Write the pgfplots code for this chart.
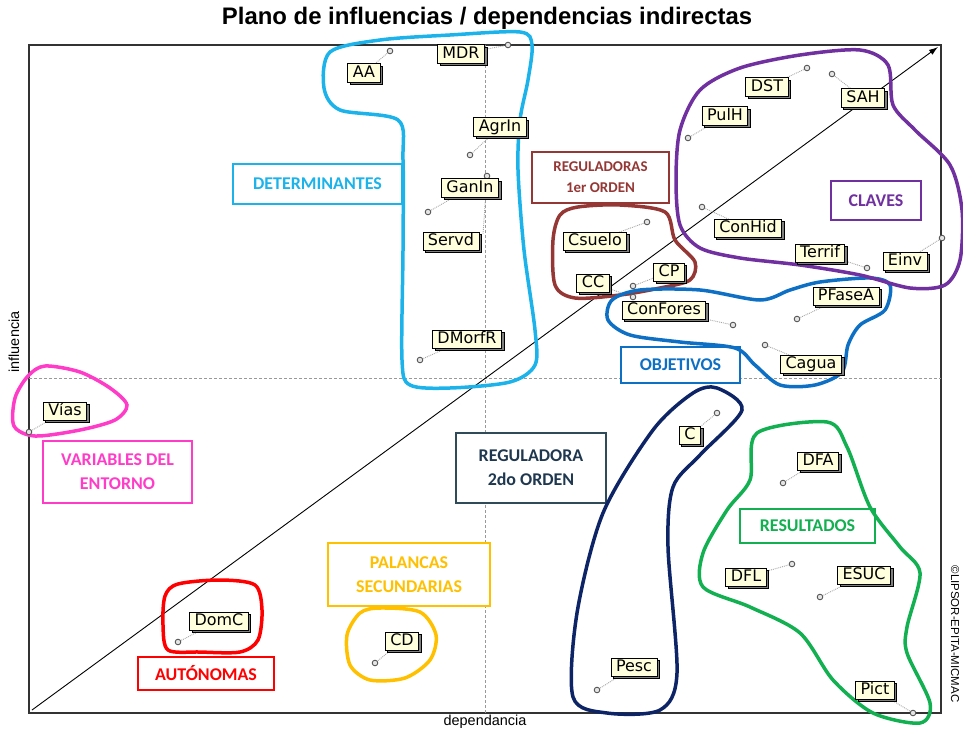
\documentclass[border=0pt]{standalone}
\usepackage{fontspec}
\setmainfont{Liberation Sans}
\newfontfamily\dejavu{DejaVu Sans}
\newfontfamily\carlito{Carlito}
\usepackage{pgfplots}
\pgfplotsset{compat=1.18}
\usepackage{pgfplotstable}
\usetikzlibrary{arrows.meta,shadows}

\definecolor{detblue}{HTML}{1CB2EA}
\definecolor{regbrown}{HTML}{953735}
\definecolor{clavpurple}{HTML}{7030A0}
\definecolor{objblue}{HTML}{0E70C4}
\definecolor{entpink}{HTML}{FF3CC8}
\definecolor{regnavy}{HTML}{0D2566}
\definecolor{resgreen}{HTML}{12B050}
\definecolor{palorange}{HTML}{FFC000}
\definecolor{autred}{HTML}{FF0000}
\definecolor{reg2text}{HTML}{1F3850}
\definecolor{reg2line}{HTML}{2F4A58}
\definecolor{cream}{HTML}{FFFFDD}

% variable: marker (px,py), label centre (lx,ly), end of the connector (ex,ey)
\pgfplotstableread{
name px py lx ly ex ey
AA 390 51 364 73 364 73
MDR 508 45 461 54 461 54
AgrIn 470 155 500 127 500 127
GanIn 428 212 470 188 470 188
Servd 487 176 451 241 483 234
DMorfR 420 360 467 339 467 339
Vías 29 432 65 411 65 411
DomC 178 642 219 621 219 621
CD 375 663 402 641 402 641
Csuelo 647 222 595 241 595 241
CC 633 297 593 283 593 283
CP 633 286 669 272 669 272
ConFores 733 325 664 310 664 310
PFaseA 797 319 846 296 846 296
Cagua 765 345 811 364 811 364
DST 807 68 767 87 767 87
SAH 832 74 863 98 863 98
PulH 688 138 725 116 725 116
ConHid 702 207 748 228 748 228
Terrif 867 268 820 253 820 253
Einv 942 238 905 261 905 261
C 717 413 690 435 690 435
Pesc 597 690 634 667 634 667
DFA 783 483 818 461 818 461
DFL 792 564 746 577 746 577
ESUC 820 597 864 575 864 575
Pict 913 713 875 690 875 690
}\vars

\tikzset{catbox/.style={draw=#1, text=#1, fill=white, line width=1.2bp, align=center, inner sep=0pt,
  font=\carlito\bfseries\fontsize{18}{24}\selectfont}}

\begin{document}
\begin{tikzpicture}
\begin{axis}[
  scale only axis, width=912bp, height=668bp,
  xmin=29, xmax=941, ymin=45, ymax=713, y dir=reverse,
  xtick=\empty, ytick=\empty,
  axis line style={draw=black!80, line width=1.4bp},
  clip=false,
]
% quadrants and diagonal
\addplot[gray!80, line width=0.8bp, dash pattern=on 3bp off 2bp] coordinates {(485,45) (485,713)};
\addplot[gray!80, line width=0.8bp, dash pattern=on 3bp off 2bp] coordinates {(29,378) (941,378)};
\addplot[black, line width=0.9bp, -{Latex[length=9bp,width=6bp]}] coordinates {(32,710) (938,47)};

% connectors, markers and labels
\addplot[gray!70, line width=0.9bp, double=white, double distance=1bp, densely dotted, mark=none,
  quiver={u=\thisrow{ex}-\thisrow{px}, v=\thisrow{ey}-\thisrow{py}}] table[x=px, y=py] {\vars};
\addplot[only marks, mark=*, mark size=2.8bp, mark options={fill=gray!20, draw=black!65, line width=0.9bp}]
  table[x=px, y=py] {\vars};
\addplot[only marks, mark=none, nodes near coords, point meta=explicit symbolic,
  nodes near coords style={anchor=center, draw=black, fill=cream, line width=0.9bp,
    font=\dejavu\fontsize{16}{16}\selectfont, text height=11.5bp, text depth=3bp,
    inner xsep=5bp, inner ysep=1.8bp,
    drop shadow={shadow xshift=2.5bp, shadow yshift=-2.5bp, fill=black!50, opacity=1}}]
  table[x=lx, y=ly, meta=name] {\vars};

% category boxes
\node[catbox=detblue, minimum width=169bp, minimum height=40bp] at (axis cs:317.5,184) {DETERMINANTES};
\node[catbox=regbrown, minimum width=137bp, minimum height=51bp, font=\carlito\bfseries\fontsize{15}{21}\selectfont] at (axis cs:600.5,177.5) {REGULADORAS\\1er ORDEN};
\node[catbox=clavpurple, minimum width=90bp, minimum height=39bp] at (axis cs:876,200.5) {CLAVES};
\node[catbox=objblue, minimum width=119bp, minimum height=36bp] at (axis cs:680.5,365) {OBJETIVOS};
\node[catbox=entpink, minimum width=149bp, minimum height=62bp] at (axis cs:117.5,472) {VARIABLES DEL\\ENTORNO};
\node[catbox=reg2line, text=reg2text, minimum width=150bp, minimum height=70bp] at (axis cs:531,468) {REGULADORA\\2do ORDEN};
\node[catbox=palorange, minimum width=162bp, minimum height=63bp] at (axis cs:409,574.5) {PALANCAS\\SECUNDARIAS};
\node[catbox=resgreen, minimum width=135bp, minimum height=34bp] at (axis cs:807.5,526) {RESULTADOS};
\node[catbox=autred, minimum width=136bp, minimum height=33bp] at (axis cs:206,673.5) {AUTÓNOMAS};

% cluster outlines
\addplot[detblue, line width=3.5bp, smooth cycle] coordinates {
  (330,52) (380,40) (450,35) (520,32) (532,45) (528,80) (520,120) (518,170) (524,250) (535,330)
  (535,365) (510,382) (450,388) (410,385) (402,360) (403,250) (403,160) (398,120) (340,110) (324,88)};
\addplot[entpink, line width=3.5bp, smooth cycle] coordinates {
  (45,366) (80,372) (110,388) (127,405) (115,420) (80,430) (35,436) (14,426) (15,398) (28,376)};
\addplot[autred, line width=3.5bp, smooth cycle] coordinates {
  (178,584) (220,580) (255,585) (262,610) (258,640) (240,652) (200,652) (168,650) (163,625) (165,596)};
\addplot[palorange, line width=3.5bp, smooth cycle] coordinates {
  (380,608) (420,612) (436,635) (430,660) (405,678) (370,680) (350,665) (347,635) (360,613)};
\addplot[regbrown, line width=3.5bp, smooth cycle] coordinates {
  (578,207) (620,205) (665,212) (675,240) (695,262) (690,280) (660,288) (620,295) (575,298)
  (555,285) (553,240) (560,215)};
\addplot[objblue, line width=3.5bp, smooth cycle] coordinates {
  (612,300) (640,290) (700,290) (760,300) (790,290) (820,282) (870,278) (890,285) (885,310)
  (860,325) (848,345) (842,372) (815,385) (780,385) (755,365) (735,348) (680,342) (630,335) (608,320)};
\addplot[clavpurple, line width=3.5bp, smooth cycle] coordinates {
  (680,130) (700,90) (740,68) (800,55) (860,50) (888,65) (893,105) (915,130) (950,165) (962,210)
  (960,260) (945,285) (910,288) (860,275) (800,265) (740,258) (700,248) (680,225) (676,180)};
\addplot[regnavy, line width=3.5bp, smooth cycle] coordinates {
  (717,388) (742,410) (700,455) (673,487) (668,547) (677,673) (660,710) (607,713) (573,697)
  (577,613) (603,513) (653,430) (693,393)};
\addplot[resgreen, line width=3.5bp, smooth cycle] coordinates {
  (827,422) (757,433) (750,480) (727,510) (703,553) (703,587) (750,607) (800,633) (833,680)
  (873,713) (920,723) (930,703) (907,653) (907,627) (920,573) (900,547) (870,507) (847,447)};

% texts
\node[font=\bfseries\fontsize{24}{25}\selectfont] at (axis cs:487,18) {Plano de influencias / dependencias indirectas};
\node[font=\fontsize{14.5}{15}\selectfont] at (axis cs:485,722) {dependancia};
\node[font=\fontsize{14.5}{15}\selectfont, rotate=90] at (axis cs:14,342) {influencia};
\node[font=\fontsize{11.5}{12}\selectfont, rotate=-90] at (axis cs:955,634) {©LIPSOR-EPITA-MICMAC};
\end{axis}
\pgfresetboundingbox
\useasboundingbox (-29bp,-19bp) rectangle (934bp,713bp);
\end{tikzpicture}
\end{document}
